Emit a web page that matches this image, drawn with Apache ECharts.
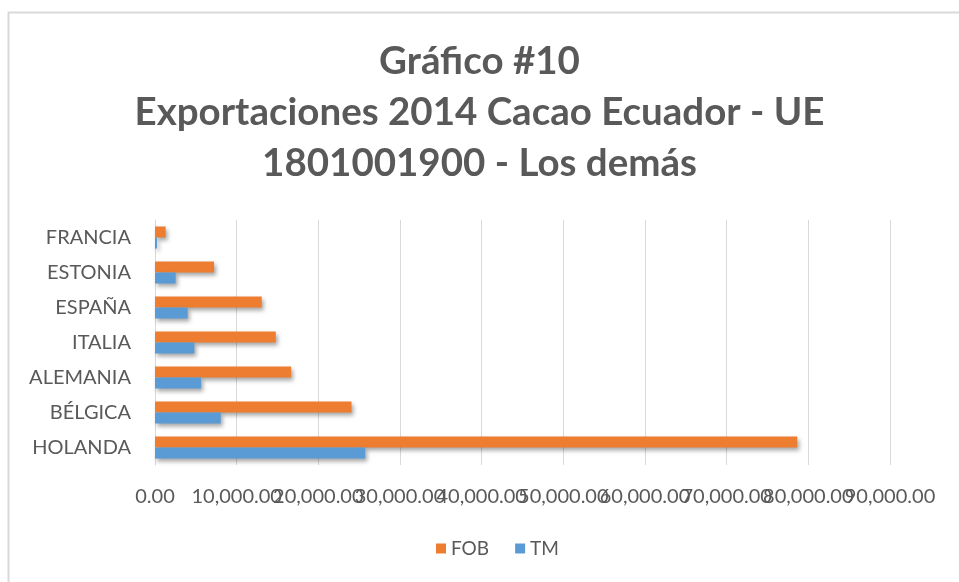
<!DOCTYPE html>
<html>
<head>
<meta charset="utf-8">
<script src="https://cdn.jsdelivr.net/npm/echarts@6/dist/echarts.min.js"></script>
<style>
  html, body { margin: 0; padding: 0; background: #fff; }
  #chart { width: 959px; height: 582px; }
</style>
</head>
<body>
<div id="chart"></div>
<script>
// paises, de abajo hacia arriba
const paises = ['HOLANDA', 'BÉLGICA', 'ALEMANIA', 'ITALIA', 'ESPAÑA', 'ESTONIA', 'FRANCIA']
const fob = [78640, 24060, 16670, 14790, 13070, 7230, 1300]
const tm = [25740, 8050, 5640, 4820, 4000, 2530, 250]
const titulo = ['Gráfico #10', 'Exportaciones 2014 Cacao Ecuador - UE', '1801001900 - Los demás']
const ejeMax = 90000
const ejePaso = 10000

const gris = '#595959'
const fuente = 'Lato, "Open Sans", sans-serif'

const chart = echarts.init(document.getElementById('chart'))

const fmt = v => v.toLocaleString('en-US', { minimumFractionDigits: 2, maximumFractionDigits: 2 })

const sombra = {
  shadowBlur: 4,
  shadowOffsetX: 2,
  shadowOffsetY: 3,
  shadowColor: 'rgba(0, 0, 0, 0.35)'
}

const etiquetaX = {
  color: gris,
  fontSize: 20,
  margin: 22
}

chart.setOption({
  animation: false,
  textStyle: { fontFamily: fuente },
  graphic: [{
    type: 'rect',
    shape: { x: 8.5, y: 12.5, width: 1200, height: 1200 },
    style: { fill: 'none', stroke: '#d9d9d9', lineWidth: 2 },
    silent: true
  }],
  title: {
    text: titulo.join('\n'),
    left: 'center',
    top: 31,
    textStyle: {
      fontFamily: fuente,
      fontSize: 38.5,
      fontWeight: 'bold',
      color: gris,
      lineHeight: 51
    }
  },
  legend: {
    data: ['FOB', 'TM'],
    bottom: 19,
    left: 431,
    itemWidth: 10,
    itemHeight: 10,
    itemGap: 26,
    icon: 'rect',
    textStyle: { fontSize: 19, color: gris, fontFamily: fuente }
  },
  grid: {
    left: 155,
    right: 69,
    top: 220,
    bottom: 117
  },
  xAxis: [
    {
      type: 'value',
      min: 0,
      max: ejeMax,
      interval: ejePaso,
      axisLine: { show: false },
      axisTick: { show: false },
      splitLine: { lineStyle: { color: '#d9d9d9', width: 1 } },
      axisLabel: Object.assign({ showMinLabel: true, showMaxLabel: false, formatter: fmt }, etiquetaX)
    },
    {
      // solo la etiqueta final, que el eje principal oculta por solaparse
      type: 'value',
      position: 'bottom',
      min: 0,
      max: ejeMax,
      interval: ejePaso,
      axisLine: { show: false },
      axisTick: { show: false },
      splitLine: { show: false },
      axisLabel: Object.assign({ showMaxLabel: true, formatter: v => (v === ejeMax ? fmt(v) : '') }, etiquetaX)
    }
  ],
  yAxis: {
    type: 'category',
    data: paises,
    axisTick: { show: false },
    axisLine: { show: true, lineStyle: { color: '#d9d9d9' } },
    axisLabel: { color: gris, fontSize: 20, margin: 24 }
  },
  series: [
    {
      name: 'FOB',
      type: 'bar',
      data: fob,
      barGap: '0%',
      barCategoryGap: '37%',
      itemStyle: Object.assign({ color: '#ed7d31' }, sombra)
    },
    {
      name: 'TM',
      type: 'bar',
      data: tm,
      barGap: '0%',
      barCategoryGap: '37%',
      itemStyle: Object.assign({ color: '#5b9bd5' }, sombra)
    }
  ]
})
</script>
</body>
</html>
